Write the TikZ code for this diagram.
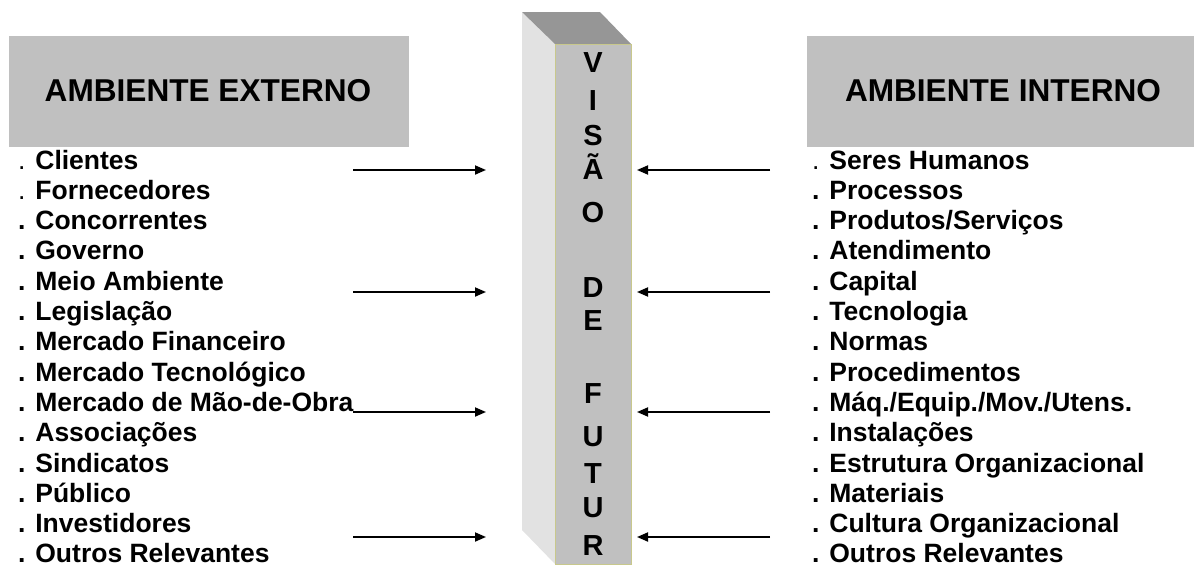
\documentclass[tikz,border=0pt]{standalone}
\usepackage{fontspec}
\setmainfont{Liberation Sans}
\usetikzlibrary{arrows.meta}
\definecolor{boxgray}{RGB}{192,192,192}
\definecolor{sidegray}{RGB}{226,226,226}
\definecolor{topgray}{RGB}{150,150,150}
\definecolor{rimcol}{RGB}{200,200,140}
\tikzset{
  item/.style={anchor=base west, inner sep=0pt, font=\fontsize{26.5}{30}\selectfont\bfseries},
  head/.style={inner sep=0pt, font=\fontsize{31.6}{36}\selectfont\bfseries},
  hbox/.style={fill=boxgray, draw=none},
  flow/.style={line width=1.8pt, -{Triangle[length=11pt,width=9pt]}},
  pil/.style={anchor=base, inner sep=0pt, font=\fontsize{29}{30}\selectfont\bfseries}
}
\newcommand{\sdot}{{\mdseries .}}
\begin{document}
\begin{tikzpicture}[x=1pt,y=-1pt]
\useasboundingbox (0,0) rectangle (1194,570);
% header boxes
\fill[hbox] (9,36) rectangle (409,147);
\node[head] (hext) at (208,91) {AMBIENTE EXTERNO};
\fill[hbox] (807,36) rectangle (1194,147);
\node[head] (hint) at (1003,91) {AMBIENTE INTERNO};
% pillar
\fill[sidegray] (522,12) -- (555,44) -- (555,564) -- (522,530) -- cycle;
\fill[topgray] (522,12) -- (600,12) -- (631,44) -- (555,44) -- cycle;
\filldraw[fill=boxgray, draw=rimcol, line width=0.8pt] (555,44) rectangle (631,564);
\foreach \l/\y in {V/62,I/100,S/135,Ã/169,O/212,D/287,E/320,F/393,U/436,T/473,U/507,R/545}
  \node[pil] at (593,\y+10.5) {\l};
% left list
\foreach \t [count=\i from 0] in {\sdot{} Clientes,\sdot{} Fornecedores,. Concorrentes,. Governo,. Meio Ambiente,. Legislação,. Mercado Financeiro,. Mercado Tecnológico,. Mercado de Mão-de-Obra,. Associações,. Sindicatos,. Público,. Investidores,. Outros Relevantes}
  \node[item] (e\i) at (18,169+\i*30.3) {\t};
% right list
\foreach \t [count=\i from 0] in {\sdot{} Seres Humanos,. Processos,. Produtos/Serviços,. Atendimento,. Capital,. Tecnologia,. Normas,. Procedimentos,. Máq./Equip./Mov./Utens.,. Instalações,. Estrutura Organizacional,. Materiais,. Cultura Organizacional,. Outros Relevantes}
  \node[item] (r\i) at (812,169+\i*30.3) {\t};
% arrows
\foreach \k/\y in {1/170,2/292,3/412,4/537}{
  \coordinate (la\k) at (353,\y);
  \coordinate (lb\k) at (486,\y);
  \coordinate (ra\k) at (770,\y);
  \coordinate (rb\k) at (637,\y);
  \draw[flow] (la\k) -- (lb\k);
  \draw[flow] (ra\k) -- (rb\k);
}
\end{tikzpicture}
\end{document}
